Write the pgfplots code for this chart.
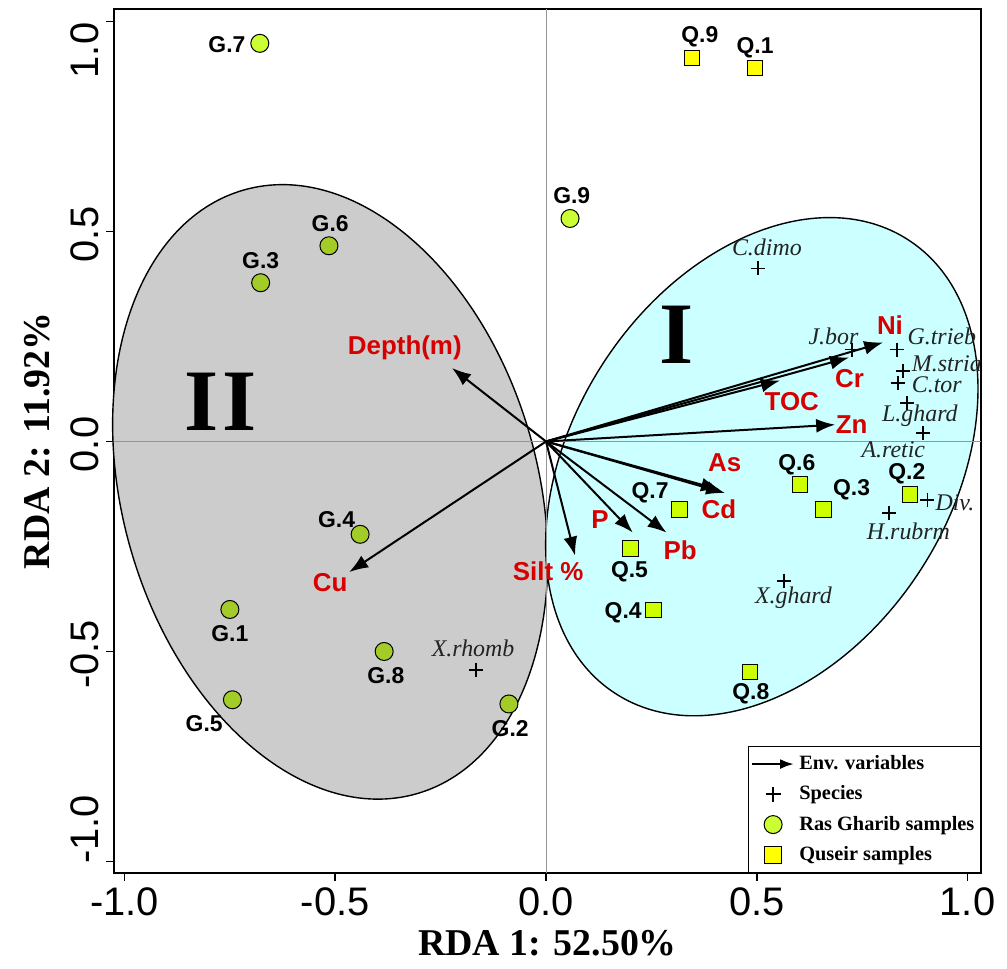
\documentclass[border=0pt]{standalone}
\usepackage{fontspec}
\setmainfont{Liberation Serif}
\newfontfamily\arial{Liberation Sans}
\usepackage{pgfplots}
\pgfplotsset{compat=1.18}
\usetikzlibrary{arrows.meta}
\definecolor{ellgrey}{RGB}{204,204,204}
\definecolor{ellcyan}{RGB}{204,255,255}
\definecolor{labred}{RGB}{215,0,0}
\definecolor{gout}{RGB}{204,255,51}
\definecolor{gin}{RGB}{163,204,41}
\definecolor{qout}{RGB}{255,255,0}
\definecolor{qin}{RGB}{204,255,0}
\definecolor{zeroline}{RGB}{150,150,150}
\definecolor{spec}{RGB}{35,35,35}
\newcommand{\fs}[1]{\fontsize{#1}{#1}\selectfont}
\pgfplotsset{
  mylegmark/.style={legend image code/.code={\path (-0.05cm,0cm) (0.7cm,0cm); \draw[##1] plot coordinates {(0.33cm,0cm)};}},
  mylegarrow/.style={legend image code/.code={\draw[line width=1.3bp,-{Latex[length=7bp,width=5bp]}] (-0.05cm,0cm) -- (0.7cm,0cm);}},
}
\tikzset{
  redlab/.style={font=\arial\bfseries\fs{13}, text=labred, inner sep=0pt},
  samplab/.style={font=\arial\bfseries\fs{11.5}, text=black, inner sep=0pt},
  speclab/.style={font=\itshape\fs{12}, text=spec, inner sep=0pt},
}
\begin{document}
\begin{tikzpicture}
\begin{axis}[
  scale only axis, width=433.5bp, height=432bp,
  xmin=-1.0249, xmax=1.032, ymin=-1.0274, ymax=1.0298,
  axis line style={line width=1.1bp},
  xtick={-1,-0.5,0,0.5,1}, xticklabels={-1.0,-0.5,0.0,0.5,1.0},
  ytick={-1,-0.5,0,0.5,1},
  yticklabels={\hspace*{35bp}-1.0,-0.5,0.0,0.5,1.0\hspace*{26bp}},
  xtick pos=bottom, ytick pos=left, tick align=outside,
  major tick length=4bp, tick style={black, line width=0.8bp},
  ticklabel style={font=\arial\fs{20}},
  yticklabel style={rotate=90, anchor=south, xshift=-1.5bp},
  xlabel={RDA 1: 52.50\%}, ylabel={RDA 2: 11.92\%},
  label style={font=\bfseries\fs{19}},
  xlabel style={at={(axis description cs:0.5,-0.081)}, anchor=center},
  ylabel style={at={(axis description cs:-0.089,0.5)}, anchor=center},
  clip=false,
  legend style={at={(rel axis cs:1,0)}, anchor=south east, draw=black, line width=0.6bp,
    fill=white, font=\bfseries\fs{10.2}, cells={anchor=west}, row sep=2.6bp,
    inner xsep=1bp, inner ysep=2.5bp},
]
% corners of the whole figure
\coordinate (bbLL) at (axis cs:-1.2954,-1.256);
\coordinate (bbUR) at (axis cs:1.0937,1.0512);

% ellipses
\draw[fill=ellgrey, line width=0.7bp, rotate around={106:(axis cs:-0.512,-0.12)}]
  (axis cs:-0.512,-0.12) ellipse [x radius=157bp, y radius=103.8bp];
\draw[fill=ellcyan, line width=0.7bp, rotate around={57.2:(axis cs:0.512,-0.06)}]
  (axis cs:0.512,-0.06) ellipse [x radius=135bp, y radius=94.7bp];

% zero lines
\draw[zeroline, line width=0.5bp] (axis cs:-1.0249,0) -- (axis cs:1.032,0);
\draw[zeroline, line width=0.5bp] (axis cs:0,-1.0274) -- (axis cs:0,1.0298);

\node[font=\bfseries\fs{44}, inner sep=0pt] at (axis cs:0.310,0.255) {I};
\node[font=\bfseries\fs{44}, inner sep=0pt] at (axis cs:-0.773,0.094) {I\kern2bp I};

% legend entries
\addlegendimage{mylegarrow}
\addlegendentry{Env. variables}
\addlegendimage{mylegmark, only marks, mark=+, mark size=3.7bp, line width=1bp, black}
\addlegendentry{Species}
\addlegendimage{mylegmark, only marks, mark=*, mark size=4.5bp, mark options={fill=gout, draw=black, line width=0.5bp}}
\addlegendentry{Ras Gharib samples}
\addlegendimage{mylegmark, only marks, mark=square*, mark size=4.2bp, mark options={fill=qout, draw=black, line width=0.5bp}}
\addlegendentry{Quseir samples}

% environmental variable arrows
\addplot[forget plot, black, line width=1bp, -{Latex[length=9.5bp,width=7bp]},
  quiver={u=\thisrow{u}, v=\thisrow{v}}] table {
x y u v
0 0 -0.223 0.175
0 0 -0.467 -0.311
0 0 0.800 0.236
0 0 0.719 0.200
0 0 0.555 0.145
0 0 0.686 0.040
0 0 0.413 -0.115
0 0 0.425 -0.123
0 0 0.206 -0.217
0 0 0.286 -0.217
0 0 0.069 -0.272
};

% species
\addplot[forget plot, only marks, mark=+, mark size=3.5bp, line width=0.9bp, black] coordinates {
(0.502,0.412) (0.725,0.219) (0.832,0.219) (0.846,0.168) (0.836,0.140) (0.857,0.091)
(0.894,0.020) (0.905,-0.139) (0.814,-0.170) (0.565,-0.332) (-0.166,-0.544)};

% Ras Gharib samples (inside grey ellipse / outside)
\addplot[forget plot, only marks, mark=*, mark size=4.5bp, mark options={fill=gin, draw=black, line width=0.5bp}] coordinates {
(-0.515,0.466) (-0.677,0.378) (-0.441,-0.221) (-0.750,-0.400) (-0.384,-0.500) (-0.744,-0.615) (-0.088,-0.625)};
\addplot[forget plot, only marks, mark=*, mark size=4.5bp, mark options={fill=gout, draw=black, line width=0.5bp}] coordinates {
(-0.679,0.948) (0.057,0.531)};

% Quseir samples
\addplot[forget plot, only marks, mark=square*, mark size=3.9bp, mark options={fill=qin, draw=black, line width=0.5bp}] coordinates {
(0.603,-0.102) (0.658,-0.162) (0.864,-0.126) (0.316,-0.162) (0.201,-0.255) (0.255,-0.401) (0.484,-0.549)};
\addplot[forget plot, only marks, mark=square*, mark size=3.9bp, mark options={fill=qout, draw=black, line width=0.5bp}] coordinates {
(0.346,0.913) (0.496,0.889)};

% red labels
\node[redlab] at (axis cs:-0.335,0.223) {Depth(m)};
\node[redlab] at (axis cs:-0.512,-0.337) {Cu};
\node[redlab] at (axis cs:0.816,0.276) {Ni};
\node[redlab] at (axis cs:0.720,0.150) {Cr};
\node[redlab] at (axis cs:0.583,0.096) {TOC};
\node[redlab] at (axis cs:0.725,0.040) {Zn};
\node[redlab] at (axis cs:0.424,-0.051) {As};
\node[redlab] at (axis cs:0.410,-0.162) {Cd};
\node[redlab] at (axis cs:0.128,-0.187) {P};
\node[redlab] at (axis cs:0.318,-0.259) {Pb};
\node[redlab] at (axis cs:0.005,-0.310) {Silt \%};

% sample labels
\node[samplab] at (axis cs:-0.757,0.946) {G.7};
\node[samplab] at (axis cs:0.061,0.585) {G.9};
\node[samplab] at (axis cs:-0.512,0.518) {G.6};
\node[samplab] at (axis cs:-0.677,0.430) {G.3};
\node[samplab] at (axis cs:-0.497,-0.185) {G.4};
\node[samplab] at (axis cs:-0.750,-0.458) {G.1};
\node[samplab] at (axis cs:-0.380,-0.558) {G.8};
\node[samplab] at (axis cs:-0.811,-0.671) {G.5};
\node[samplab] at (axis cs:-0.085,-0.683) {G.2};
\node[samplab] at (axis cs:0.365,0.963) {Q.9};
\node[samplab] at (axis cs:0.496,0.937) {Q.1};
\node[samplab] at (axis cs:0.595,-0.055) {Q.6};
\node[samplab] at (axis cs:0.725,-0.115) {Q.3};
\node[samplab] at (axis cs:0.856,-0.076) {Q.2};
\node[samplab] at (axis cs:0.247,-0.121) {Q.7};
\node[samplab] at (axis cs:0.198,-0.311) {Q.5};
\node[samplab] at (axis cs:0.183,-0.408) {Q.4};
\node[samplab] at (axis cs:0.486,-0.600) {Q.8};

% species labels
\node[speclab] at (axis cs:0.524,0.463) {C.dimo};
\node[speclab] at (axis cs:0.682,0.251) {J.bor};
\node[speclab] at (axis cs:0.939,0.251) {G.trieb};
\node[speclab] at (axis cs:0.951,0.185) {M.stria};
\node[speclab] at (axis cs:0.927,0.134) {C.tor};
\node[speclab] at (axis cs:0.887,0.062) {L.ghard};
\node[speclab] at (axis cs:0.824,-0.019) {A.retic};
\node[speclab] at (axis cs:0.970,-0.145) {Div.};
\node[speclab] at (axis cs:0.860,-0.213) {H.rubrm};
\node[speclab] at (axis cs:0.587,-0.372) {X.ghard};
\node[speclab] at (axis cs:-0.173,-0.492) {X.rhomb};
\end{axis}
\pgfresetboundingbox
\path[use as bounding box] (bbLL) rectangle (bbUR);
\end{tikzpicture}
\end{document}
